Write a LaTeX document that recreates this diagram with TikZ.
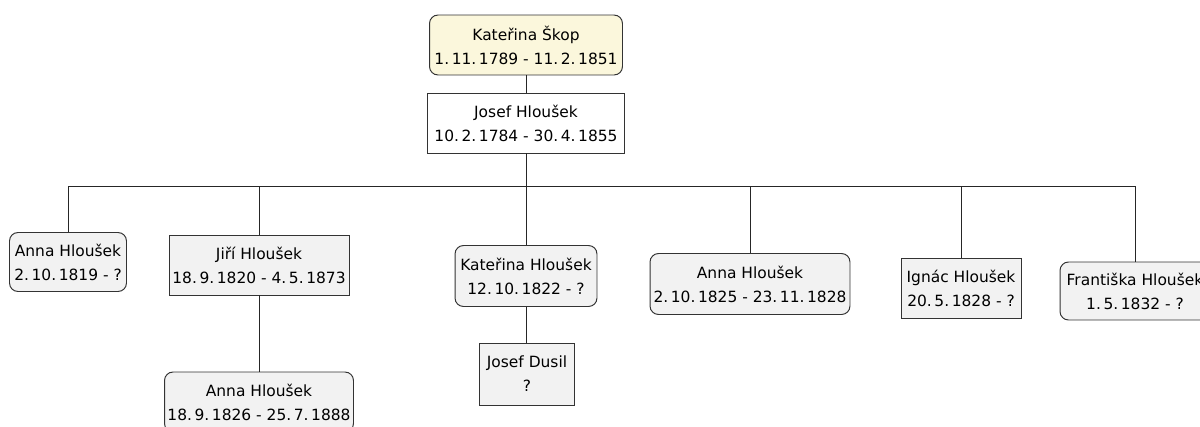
\documentclass[tikz,border=0pt]{standalone}
\usepackage{fontspec}
\setmainfont{DejaVu Sans}

\begin{document}
\begin{tikzpicture}[x=0.02cm, y=-0.02cm,
    box/.style={draw=black!80, line width=0.55pt, align=center, inner sep=0pt, fill=black!5,
      font=\fontsize{8.8}{13.6}\selectfont},
    rbox/.style={box, rounded corners=0.17cm},
    link/.style={draw=black!85, line width=0.55pt}]
    \useasboundingbox (0,0) rectangle (1200,426);
    \clip (0,0) rectangle (1200,426);

    % rodiče
    \node[rbox, fill={rgb,255:red,251;green,247;blue,220}, minimum width=3.86cm, minimum height=1.2cm] (skop) at (526, 45) {Kateřina Škop\\1.\,11.\,1789 - 11.\,2.\,1851};
    \node[box, fill=white, minimum width=3.94cm, minimum height=1.2cm] (josef) at (526, 123) {Josef Hloušek\\10.\,2.\,1784 - 30.\,4.\,1855};

    % děti
    \node[rbox, minimum width=2.34cm, minimum height=1.18cm] (anna1) at (68, 262) {Anna Hloušek\\2.\,10.\,1819 - ?};
    \node[box, minimum width=3.6cm, minimum height=1.2cm] (jiri) at (259, 265) {Jiří Hloušek\\18.\,9.\,1820 - 4.\,5.\,1873};
    \node[rbox, minimum width=2.84cm, minimum height=1.22cm] (katerina) at (526, 276) {Kateřina Hloušek\\12.\,10.\,1822 - ?};
    \node[rbox, minimum width=4.0cm, minimum height=1.22cm] (anna2) at (750, 284) {Anna Hloušek\\2.\,10.\,1825 - 23.\,11.\,1828};
    \node[box, minimum width=2.4cm, minimum height=1.2cm] (ignac) at (961, 288) {Ignác Hloušek\\20.\,5.\,1828 - ?};
    \node[rbox, minimum width=3.0cm, minimum height=1.16cm] (frantiska) at (1135, 291) {Františka Hloušek\\1.\,5.\,1832 - ?};

    % další generace
    \node[rbox, minimum width=3.78cm, minimum height=1.2cm] (anna3) at (259, 402) {Anna Hloušek\\18.\,9.\,1826 - 25.\,7.\,1888};
    \node[box, minimum width=1.9cm, minimum height=1.24cm] (dusil) at (527, 374) {Josef Dusil\\?};

    % spojnice
    \coordinate (bus) at (526, 186);
    \draw[link] (skop) -- (josef);
    \draw[link] (josef) -- (bus);
    \foreach \kid in {anna1, jiri, katerina, anna2, ignac, frantiska}
      \draw[link] (bus) -| (\kid.north);
    \draw[link] (jiri) -- (anna3);
    \draw[link] (katerina.south) -- (dusil.north -| katerina.south);
  \end{tikzpicture}
\end{document}
